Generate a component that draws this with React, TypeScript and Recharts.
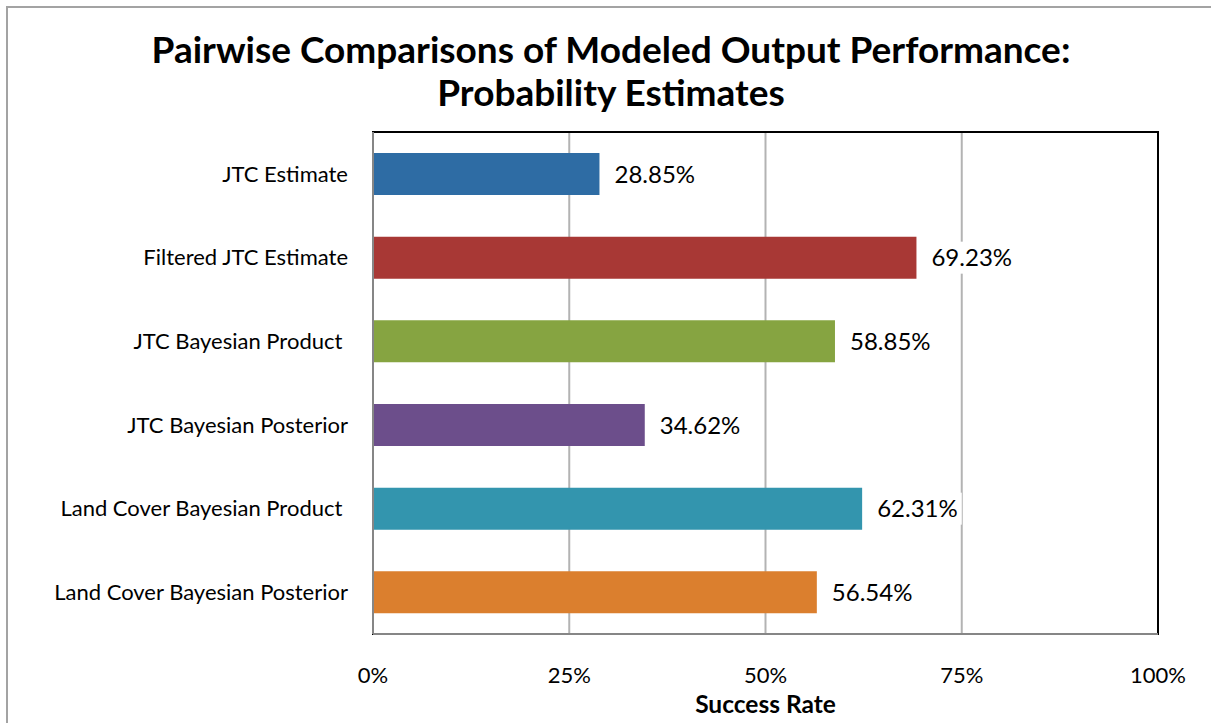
import React from 'react';
import { BarChart, Bar, XAxis, YAxis, CartesianGrid, Cell, LabelList, ReferenceArea } from 'recharts';

const categories = [
  'JTC Estimate',
  'Filtered JTC Estimate',
  'JTC Bayesian Product\u00A0',
  'JTC Bayesian Posterior',
  'Land Cover Bayesian Product\u00A0',
  'Land Cover Bayesian Posterior',
];
const successRates = [28.85, 69.23, 58.85, 34.62, 62.31, 56.54];
const barColors = ['#2E6CA4', '#A83835', '#86A441', '#6C4E8B', '#3395AE', '#DB7F2E'];
const xTicks = [0, 25, 50, 75, 100];
const titleLines = ['Pairwise Comparisons of Modeled Output Performance:', 'Probability Estimates'];
const xAxisTitle = 'Success Rate';

const data = categories.map((name, i) => ({ name, value: successRates[i] }));

const FONT = 'Lato, "Open Sans", sans-serif';
const W = 1211;
const H = 723;
const TICK_SIZE = 22;
const VALUE_SIZE = 24;

const ValueLabel = (props: any) => {
  const { x, y, width, height, value } = props;
  const text = `${Number(value).toFixed(2)}%`;
  const tx = Number(x) + Number(width) + 15;
  const cy = Number(y) + Number(height) / 2;
  const w = text.length * VALUE_SIZE * 0.56;
  return (
    <g>
      <rect x={tx - 4} y={cy - 16} width={w + 8} height={32} fill="#ffffff" />
      <text x={tx} y={cy} dy="0.36em" fontFamily={FONT} fontSize={VALUE_SIZE} fill="#000000">
        {text}
      </text>
    </g>
  );
};

export default function App() {
  return (
    <div style={{ position: 'absolute', left: 0, top: 0, width: W, height: H, overflow: 'hidden', background: '#ffffff' }}>
      <div style={{ position: 'absolute', left: 6, top: 6, width: 1300, height: 800, border: '2px solid #a3a3a3' }} />
      <div style={{ position: 'absolute', left: 0, top: 0 }}>
        <BarChart
          width={W}
          height={H}
          data={data}
          layout="vertical"
          margin={{ top: 132, right: 53, bottom: 0, left: 0 }}
          barCategoryGap={0}
        >
          <CartesianGrid horizontal={false} stroke="#b3b3b3" strokeWidth={2} />
          <ReferenceArea x1={0} x2={100} stroke="#000000" strokeWidth={2} fill="none" fillOpacity={0} />
          <XAxis
            type="number"
            domain={[0, 100]}
            ticks={xTicks}
            tickFormatter={(v: number) => `${v}%`}
            height={89}
            tickSize={0}
            tickMargin={33}
            axisLine={{ stroke: '#868686', strokeWidth: 2 }}
            tick={{ fill: '#000000', fontSize: TICK_SIZE, fontFamily: FONT }}
            label={{ value: xAxisTitle, position: 'insideBottom', offset: 10, fill: '#000000', fontSize: 24.5, fontWeight: 700, fontFamily: FONT }}
          />
          <YAxis
            type="category"
            dataKey="name"
            width={373}
            tickSize={0}
            tickMargin={25}
            axisLine={{ stroke: '#868686', strokeWidth: 2 }}
            tick={{ fill: '#000000', fontSize: TICK_SIZE, fontFamily: FONT }}
            interval={0}
          />
          <Bar dataKey="value" barSize={42} isAnimationActive={false}>
            {data.map((d, i) => (
              <Cell key={d.name} fill={barColors[i]} />
            ))}
            <LabelList dataKey="value" content={ValueLabel} />
          </Bar>
        </BarChart>
      </div>
      <svg width={W} height={H} style={{ position: 'absolute', left: 0, top: 0, pointerEvents: 'none' }}>
        {titleLines.map((line, i) => (
          <text key={line} x={611} y={63 + i * 43} textAnchor="middle" fontFamily={FONT} fontWeight={700} fontSize={37} fill="#000000">
            {line}
          </text>
        ))}
      </svg>
    </div>
  );
}
